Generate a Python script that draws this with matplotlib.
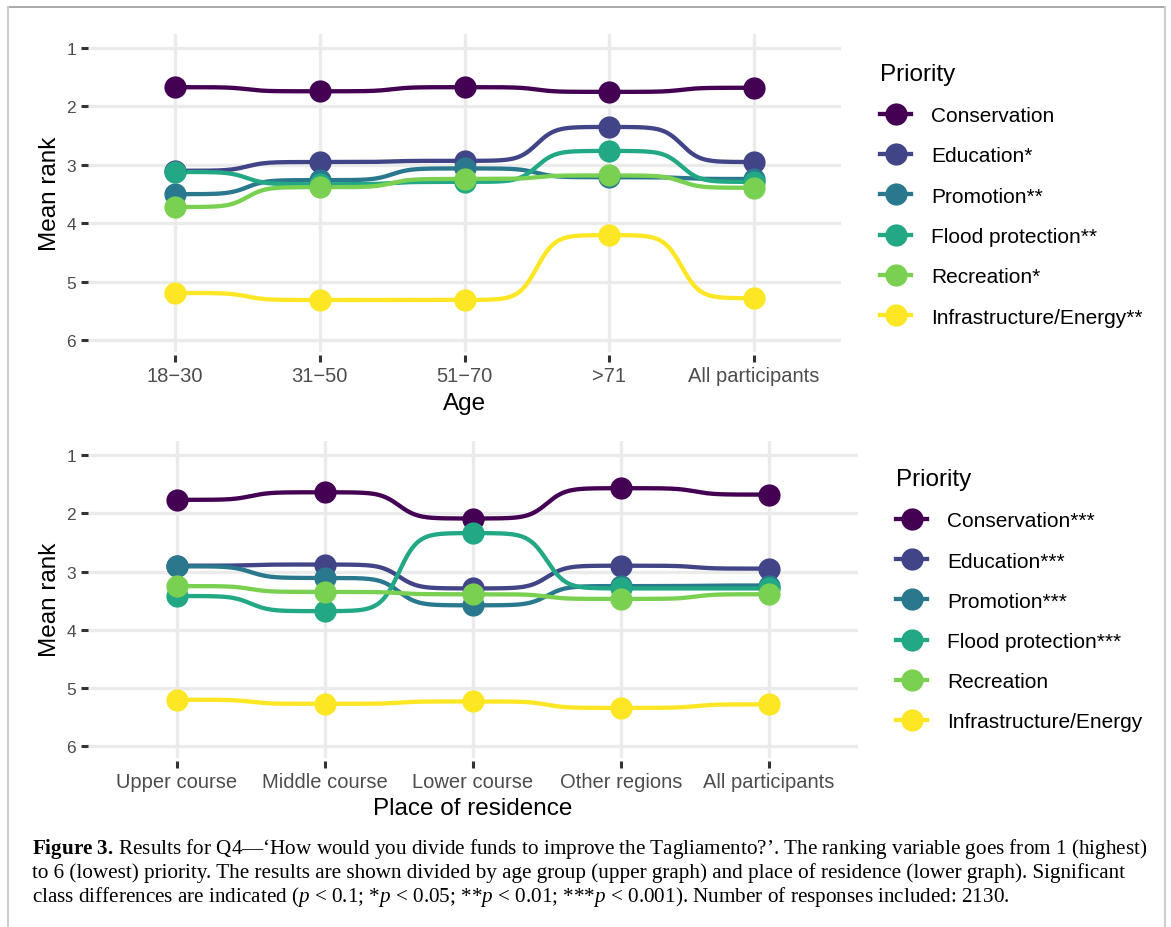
import matplotlib
matplotlib.use("Agg")
import matplotlib.pyplot as plt
from matplotlib.lines import Line2D
import numpy as np

plt.rcParams['font.family'] = ['Liberation Sans', 'DejaVu Sans']
plt.rcParams['mathtext.fontset'] = 'custom'
plt.rcParams['mathtext.rm'] = 'Liberation Serif'
plt.rcParams['mathtext.it'] = 'Liberation Serif:italic'
plt.rcParams['mathtext.bf'] = 'Liberation Serif:bold'

# data
priorities = ['Conservation', 'Education', 'Promotion', 'Flood protection',
              'Recreation', 'Infrastructure/Energy']
age_sig = ['', '*', '**', '**', '*', '**']
res_sig = ['***', '***', '***', '***', '', '']

age_groups = ['18\u221230', '31\u221250', '51\u221270', '>71', 'All participants']
age_conservation = [1.67, 1.74, 1.67, 1.75, 1.68]
age_education = [3.10, 2.95, 2.93, 2.35, 2.95]
age_promotion = [3.50, 3.26, 3.06, 3.21, 3.24]
age_flood = [3.12, 3.33, 3.29, 2.76, 3.29]
age_recreation = [3.72, 3.38, 3.24, 3.18, 3.39]
age_infrastructure = [5.19, 5.31, 5.31, 4.20, 5.28]

residence = ['Upper course', 'Middle course', 'Lower course', 'Other regions', 'All participants']
res_conservation = [1.77, 1.64, 2.09, 1.57, 1.68]
res_education = [2.90, 2.88, 3.29, 2.90, 2.95]
res_promotion = [2.91, 3.11, 3.58, 3.25, 3.24]
res_flood = [3.42, 3.68, 2.34, 3.29, 3.29]
res_recreation = [3.25, 3.35, 3.39, 3.47, 3.39]
res_infrastructure = [5.20, 5.27, 5.23, 5.34, 5.28]

colors = ['#440154', '#414487', '#2A788E', '#22A884', '#7AD151', '#FDE725']


def bump(xs, ys, smooth=8, n=100):
    # sigmoid connection between consecutive points (like ggbump)
    px, py = [], []
    for i in range(len(xs) - 1):
        t = np.linspace(-smooth, smooth, n)
        s = 1 / (1 + np.exp(-t))
        s = (s - s[0]) / (s[-1] - s[0])
        px.append(xs[i] + (t + smooth) / (2 * smooth) * (xs[i + 1] - xs[i]))
        py.append(ys[i] + s * (ys[i + 1] - ys[i]))
    return np.concatenate(px), np.concatenate(py)


def panel(ax, cats, series, sig, leg_anchor):
    x = np.arange(len(cats))
    for vals, c in zip(series, colors):
        cx, cy = bump(x, vals)
        ax.plot(cx, cy, color=c, lw=3.1, zorder=2, solid_capstyle='butt')
    for vals, c in zip(series, colors):
        ax.plot(x, vals, 'o', color=c, ms=16, mew=0, zorder=3)
    ax.set_xlim(-0.6, len(cats) - 0.4)
    ax.set_ylim(6.2, 0.76)
    ax.set_xticks(x)
    ax.set_xticklabels(cats)
    ax.set_yticks([1, 2, 3, 4, 5, 6])
    ax.grid(True, color='#EBEBEB', lw=2.4)
    ax.set_axisbelow(True)
    for s in ax.spines.values():
        s.set_visible(False)
    ax.spines['bottom'].set_position(('outward', 2))
    ax.tick_params(axis='x', length=5, width=2.2, color='#333333',
                   labelsize=14.5, labelcolor='#4D4D4D', pad=3)
    ax.tick_params(axis='y', length=5, width=2.2, color='#333333',
                   labelsize=12.5, labelcolor='#4D4D4D', pad=3.5)
    handles = [Line2D([], [], color=c, lw=3.1, marker='o', ms=16, mew=0)
               for c in colors]
    labels = [p + s for p, s in zip(priorities, sig)]
    leg = ax.legend(handles, labels, title='Priority', loc='upper left',
                    bbox_to_anchor=leg_anchor, bbox_transform=fig.transFigure,
                    frameon=False, fontsize=15, title_fontsize=17.5,
                    handlelength=1.5, handletextpad=0.95, labelspacing=1.02,
                    borderpad=0, borderaxespad=0, alignment='left')
    return leg


fig = plt.figure(figsize=(11.71, 9.28), dpi=100)
W, H = 1171, 928

ax1 = fig.add_axes([88 / W, 1 - 353 / H, (841 - 88) / W, (353 - 35) / H])
ax2 = fig.add_axes([88 / W, 1 - 759 / H, (858 - 88) / W, (759 - 442) / H])

panel(ax1, age_groups,
      [age_conservation, age_education, age_promotion, age_flood,
       age_recreation, age_infrastructure],
      age_sig, (880 / W, 1 - 64 / H))
panel(ax2, residence,
      [res_conservation, res_education, res_promotion, res_flood,
       res_recreation, res_infrastructure],
      res_sig, (896 / W, 1 - 469 / H))

# axis titles
fig.text(56 / W, 1 - 194 / H, 'Mean rank', rotation=90, fontsize=17.5,
         ha='center', va='baseline', rotation_mode='anchor')
fig.text(56 / W, 1 - 600 / H, 'Mean rank', rotation=90, fontsize=17.5,
         ha='center', va='baseline', rotation_mode='anchor')
fig.text(464.5 / W, 1 - 410 / H, 'Age', fontsize=17.5, ha='center', va='baseline')
fig.text(473 / W, 1 - 815 / H, 'Place of residence', fontsize=17.5,
         ha='center', va='baseline')

# caption
cap_font = dict(family='Liberation Serif', fontsize=15.2, ha='left', va='baseline')
fig.text(32 / W, 1 - 854 / H,
         r'$\mathbf{Figure\ 3.}\,$' + 'Results for Q4\u2014\u2018How would you divide funds to improve '
         'the Tagliamento?\u2019. The ranking variable goes from 1 (highest)', **cap_font)
fig.text(32 / W, 1 - 878 / H,
         'to 6 (lowest) priority. The results are shown divided by age group (upper graph) '
         'and place of residence (lower graph). Significant', **cap_font)
fig.text(32 / W, 1 - 902 / H,
         r'class differences are indicated ($\mathit{p}$ < 0.1; *$\mathit{p}$ < 0.05; '
         r'**$\mathit{p}$ < 0.01; ***$\mathit{p}$ < 0.001). Number of responses included: 2130.',
         **cap_font)

# frame around the figure
fig.add_artist(Line2D([8 / W, 1165 / W], [1 - 8 / H, 1 - 8 / H], color='#9A9A9A', lw=1.2))
fig.add_artist(Line2D([8 / W, 8 / W], [0, 1 - 8 / H], color='#CCCCCC', lw=1.5))
fig.add_artist(Line2D([1165 / W, 1165 / W], [0, 1 - 8 / H], color='#CCCCCC', lw=1.5))

fig.savefig('out.png', dpi=100)
